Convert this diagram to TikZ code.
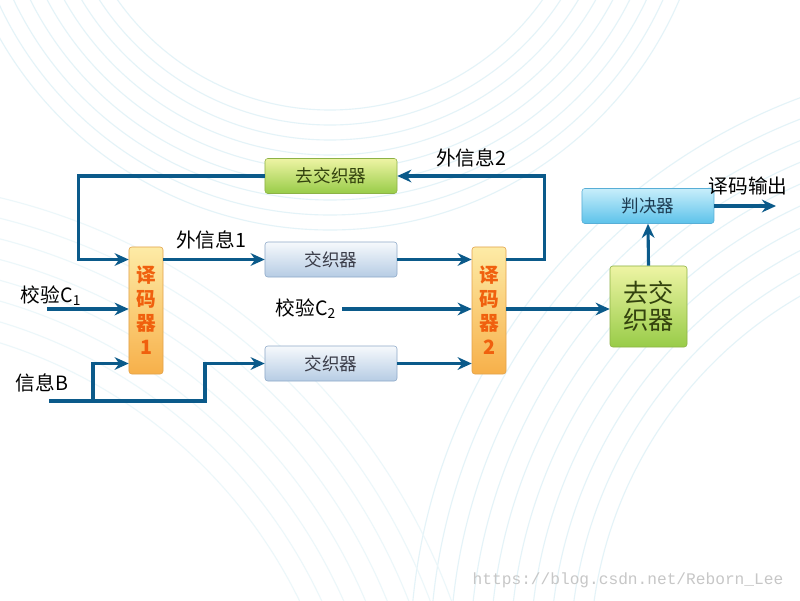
\documentclass[tikz,border=0pt]{standalone}
\usepackage{fontspec}
\setmainfont{Noto Sans CJK SC}
\setmonofont{Liberation Mono}
\usepackage{xcolor}
\usetikzlibrary{arrows.meta,positioning}

\definecolor{linkblue}{HTML}{0B5A8A}
\definecolor{dectop}{HTML}{FDEBA6}
\definecolor{decbot}{HTML}{F7B04A}
\definecolor{decedge}{HTML}{E3A24A}
\definecolor{dectext}{HTML}{F0600E}
\definecolor{greentop}{HTML}{EEF4A4}
\definecolor{greenbot}{HTML}{98CC48}
\definecolor{greenedge}{HTML}{8DB246}
\definecolor{greentext}{HTML}{33420E}
\definecolor{inttop}{HTML}{F6F9FC}
\definecolor{intbot}{HTML}{B6CCE4}
\definecolor{intedge}{HTML}{8EA9C8}
\definecolor{inttext}{HTML}{3A3C48}
\definecolor{judgetop}{HTML}{C8EEFB}
\definecolor{judgebot}{HTML}{5CC2EA}
\definecolor{judgeedge}{HTML}{58AED6}
\definecolor{judgetext}{HTML}{1D3C52}
\definecolor{swirl}{HTML}{E4F3F8}

\begin{document}
\begin{tikzpicture}[
    x=0.025cm, y=-0.025cm,
    >={Stealth[length=10pt,width=9pt]},
    link/.style={line width=2.2pt, linkblue},
    box/.style={
        rounded corners=2pt,
        minimum width=3.3cm,
        minimum height=0.875cm,
        inner sep=0pt,
        font=\fontsize{12.5}{14}\selectfont
    },
    interbox/.style={box, draw=intedge, top color=inttop, bottom color=intbot, text=inttext},
    deintbox/.style={box, draw=greenedge, top color=greentop, bottom color=greenbot, text=greentext},
    judgebox/.style={box, draw=judgeedge, top color=judgetop, bottom color=judgebot, text=judgetext},
    decbox/.style={
        draw=decedge, rounded corners=2pt,
        top color=dectop, bottom color=decbot,
        minimum width=0.85cm, minimum height=3.175cm,
        inner sep=0pt, align=center, text=dectext,
        font=\fontsize{14}{17}\selectfont\bfseries
    },
    bigbox/.style={
        draw=greenedge, rounded corners=2pt,
        top color=greentop, bottom color=greenbot,
        minimum width=1.925cm, minimum height=2.025cm,
        inner sep=0pt, align=center, text=greentext,
        font=\fontsize{18}{19}\selectfont
    },
    lbl/.style={font=\fontsize{14}{16}\selectfont, inner sep=1pt}
]

% Background
\useasboundingbox (0,0) rectangle (800,600);
\fill[white] (0,0) rectangle (800,600);
\begin{scope}
    \clip (0,0) rectangle (800,600);
    \foreach \r in {420,440,...,600}
        \draw[swirl, line width=0.8pt] (1010,660) circle (\r);
    \foreach \r in {260,275,...,380}
        \draw[swirl, line width=0.8pt] (330,-150) circle (\r);
    \foreach \r in {500,520,...,640}
        \draw[swirl!70, line width=0.8pt] (-150,820) circle (\r);
\end{scope}

% ---- Blocks ----
\node[decbox] (dec1) at (146,310.5) {译\\码\\器\\1};
\node[decbox] (dec2) at (489,310.5) {译\\码\\器\\2};

\node[deintbox] (deint) at (331,176) {去交织器};
\node[interbox] (int1) at (331,259.5) {交织器};
\node[interbox] (int2) at (331,363.5) {交织器};

\node[bigbox] (deint2) at (648.5,306.5) {去交\\织器};
\node[judgebox] (judge) at (648,206) {判决器};

% ---- Free ends ----
\coordinate (c1in) at (47,309);
\coordinate (c2in) at (342,309);
\coordinate (bin) at (49,401);
\coordinate (out) at (776,206);

% ---- Labels ----
\node[lbl] (lc1) at (51,296) {校验C\textsubscript{1}};
\node[lbl, left=3pt of c2in] (lc2) {校验C\textsubscript{2}};
\node[lbl] (lb) at (42,383) {信息B};
\node[lbl] (ext1) at (211,240) {外信息1};
\node[lbl] (ext2) at (471,158) {外信息2};
\node[lbl] (lout) at (748,186) {译码输出};

% ---- Connectors ----
% feedback loop
\draw[link,->] (dec2.east |- int1) -- ++(38,0) |- (deint.east);
\draw[link,->] (deint.west) -- ++(-186,0) |- (dec1.west |- int1);

% decoder 1
\draw[link,->] (dec1.east |- int1) -- (int1.west);
\draw[link,->] (c1in) -- (dec1.west |- c1in);
\draw[link,->] (bin) -- (205,401) |- (int2.west);
\draw[link,->] (93,401) |- (dec1.west |- int2);

% decoder 2
\draw[link,->] (int1.east) -- (dec2.west |- int1);
\draw[link,->] (c2in) -- (dec2.west |- c2in);
\draw[link,->] (int2.east) -- (dec2.west |- int2);

% output side
\draw[link,->] (dec2.east |- c2in) -- (deint2.west |- c2in);
\draw[link,->] (deint2.north) -- (judge.south);
\draw[link,->] (judge.east) -- (out);

% watermark
\node[font=\ttfamily\fontsize{11.5}{13}\selectfont, text=black!22] (wm) at (628,580)
{https://blog.csdn.net/Reborn\_Lee};

\end{tikzpicture}
\end{document}
